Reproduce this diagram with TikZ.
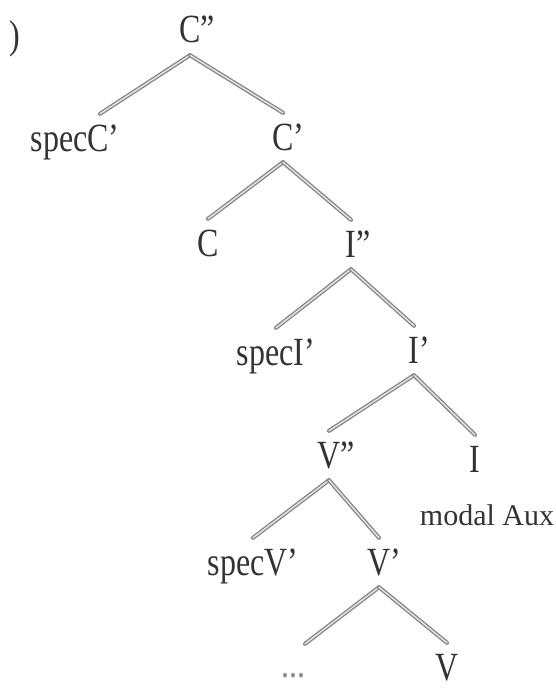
\documentclass[tikz,border=0pt]{standalone}
\usepackage{fontspec}
\setmainfont{Liberation Serif}
\newfontfamily\treefont[FakeStretch=0.8]{Liberation Serif}
\usepackage{tikz}
\usetikzlibrary{positioning}
\definecolor{InkGray}{HTML}{333333}
\definecolor{BranchGray}{HTML}{858585}
\definecolor{BranchLight}{HTML}{E2E2E2}

\begin{document}
\begin{tikzpicture}[on grid, every node/.style={text=InkGray,inner sep=0pt}, cat/.style={font=\treefont\fontsize{40}{44}\selectfont,text height=37pt,text depth=12pt}, leaf/.style={cat,text depth=0pt}, aux/.style={font=\fontsize{30}{34}\selectfont,text height=21pt,text depth=0pt}, gap/.style={font=\treefont\fontsize{40}{44}\selectfont,text=black!45,text height=33pt,text depth=0pt}, branch/.style={draw=BranchGray,line width=1.3pt,double=BranchLight,double distance=1.5pt,line cap=round}]
\useasboundingbox (-190pt,30.5pt) rectangle (365pt,-657.5pt);
\node[cat] (Cpp) at (0,0) {C\rlap{”}};
\node[cat,below left=5pt and 175pt of Cpp] (paren) {)};
\node[cat,below left=108pt and 115pt of Cpp] (specC) {specC’};
\node[cat,below right=107pt and 93pt of Cpp] (Cp) {C\rlap{’}};
\node[cat,below left=106pt and 75pt of Cp] (C) {C};
\node[cat,below right=107pt and 68pt of Cp] (Ipp) {I\rlap{”}};
\node[cat,below left=108pt and 75pt of Ipp] (specI) {specI’};
\node[cat,below right=106pt and 63pt of Ipp] (Ip) {I\rlap{’}};
\node[cat,below left=105pt and 85pt of Ip] (Vpp) {V\rlap{”}};
\node[cat,below right=109pt and 61pt of Ip] (I) {I};
\node[aux,below right=55pt and 12pt of I] (modal) {modal Aux};
\node[cat,below left=107pt and 76pt of Vpp] (specV) {specV’};
\node[cat,below right=107pt and 50pt of Vpp] (Vp) {V\rlap{’}};
\node[gap,below left=98pt and 86pt of Vp] (dots) {...};
\node[leaf,below right=99pt and 68pt of Vp] (V) {V};
% branches
\draw[branch] (Cpp.south) -- ([xshift=25pt]specC.north);
\draw[branch] (Cpp.south) -- (Cp.north);
\draw[branch] (Cp.south) -- (C.north);
\draw[branch] (Cp.south) -- (Ipp.north);
\draw[branch] (Ipp.south) -- (specI.north);
\draw[branch] (Ipp.south) -- (Ip.north);
\draw[branch] (Ip.south) -- (Vpp.north);
\draw[branch] (Ip.south) -- (I.north);
\draw[branch] (Vpp.south) -- (specV.north);
\draw[branch] (Vpp.south) -- (Vp.north);
\draw[branch] (Vp.south) -- ([xshift=12pt]dots.north);
\draw[branch] (Vp.south) -- (V.north);
\end{tikzpicture}
\end{document}
